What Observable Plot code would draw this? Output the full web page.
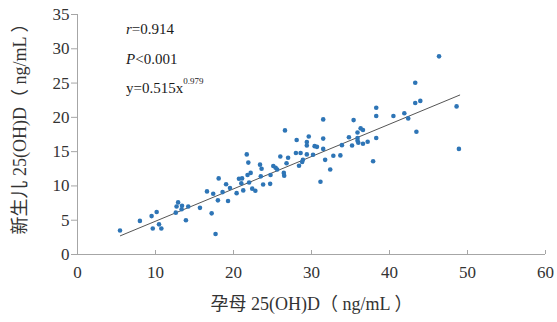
<!DOCTYPE html>
<html><head><meta charset="utf-8">
<script src="https://cdn.jsdelivr.net/npm/d3@7"></script>
<script src="https://cdn.jsdelivr.net/npm/@observablehq/plot@0.6"></script>
<style>html,body{margin:0;padding:0;background:#fff}</style>
</head><body><div id="chart"></div>
<script>
// maternal 25(OH)D (x) and neonatal 25(OH)D (y)
const maternal = [5.45, 8.0, 9.5, 10.15, 9.65, 10.45, 10.75, 12.9, 12.7, 13.4,
  13.35, 12.6, 14.2, 13.9, 15.7, 17.2, 17.7, 16.6, 17.4, 18.1,
  18.0, 18.6, 19.05, 19.3, 19.55, 20.4, 20.7, 21.1, 21.0, 21.25,
  21.7, 21.9, 21.8, 22.2, 22.0, 22.4, 22.8, 23.4, 23.6, 23.5,
  23.8, 24.7, 24.75, 25.1, 25.4, 25.6, 26.0, 26.45, 26.5, 26.8,
  27.0, 26.6, 28.1, 28.0, 28.6, 28.4, 28.9, 28.8, 29.4, 29.4,
  29.65, 29.4, 30.4, 30.7, 31.15, 31.5, 30.2, 31.5, 31.5, 31.75,
  32.4, 32.8, 33.7, 33.9, 34.8, 35.2, 35.4, 35.9, 36.3, 36.6,
  35.9, 35.9, 36.0, 36.6, 37.2, 37.9, 38.3, 38.3, 38.3, 40.5,
  46.35, 43.3, 43.3, 43.95, 41.9, 42.4, 43.45, 48.6, 48.9];
const neonatal = [3.5, 4.9, 5.6, 6.2, 3.8, 4.4, 3.8, 7.6, 7.0, 7.1,
  6.6, 6.1, 7.0, 5.0, 6.8, 6.0, 3.0, 9.2, 8.85, 11.1,
  7.9, 9.1, 10.25, 7.8, 9.7, 8.95, 11.05, 11.1, 10.4, 9.35,
  14.6, 13.4, 11.6, 11.9, 10.5, 9.6, 9.3, 13.1, 12.5, 11.4,
  10.2, 10.3, 11.6, 12.9, 12.65, 12.4, 14.3, 11.9, 11.5, 13.3,
  14.1, 18.1, 16.7, 14.8, 14.8, 12.95, 13.8, 13.5, 16.4, 15.9,
  17.2, 14.6, 15.8, 15.7, 10.6, 19.7, 14.55, 16.9, 15.4, 13.8,
  12.4, 14.4, 14.45, 15.95, 17.1, 15.9, 19.6, 17.8, 18.4, 18.15,
  17.0, 16.6, 16.3, 16.15, 16.45, 13.6, 21.4, 20.2, 17.0, 20.2,
  28.9, 25.05, 22.1, 22.4, 20.6, 19.85, 17.9, 21.6, 15.4];
// fitted curve end points (y = 0.515 x^0.979)
const fitX = [5.5, 49];
const fitY = [2.73, 23.25];
const xTicks = [0, 10, 20, 30, 40, 50, 60];
const yTicks = [0, 5, 10, 15, 20, 25, 30, 35];
const xLabel = "孕母 25(OH)D（ ng/mL ）";
const yLabel = "新生儿 25(OH)D（ ng/mL ）";
const statR = "0.914";
const statP = "0.001";
const coefA = "0.515";
const coefB = "0.979";

const points = maternal.map((x, i) => ({x, y: neonatal[i]}));
const fit = fitX.map((x, i) => ({x, y: fitY[i]}));
const serif = "'Liberation Serif','Times New Roman','Noto Sans CJK SC',serif";
const axisColor = "#a6a6a6";

const annotations = (index, scales, values, dims) => {
  const g = d3.create("svg:g")
    .attr("font-family", serif).attr("font-size", 15).attr("fill", "#1a1a1a")
    .attr("text-anchor", "start");
  const x0 = dims.marginLeft + 49;
  const t1 = g.append("text").attr("x", x0).attr("y", dims.marginTop + 20);
  t1.append("tspan").attr("font-style", "italic").text("r");
  t1.append("tspan").text("=" + statR);
  const t2 = g.append("text").attr("x", x0).attr("y", dims.marginTop + 50);
  t2.append("tspan").attr("font-style", "italic").text("P");
  t2.append("tspan").text("<" + statP);
  const t3 = g.append("text").attr("x", x0).attr("y", dims.marginTop + 79);
  t3.append("tspan").text("y=" + coefA + "x");
  t3.append("tspan").attr("font-size", 9).attr("dy", -9).text(coefB);
  return g.node();
};

const chart = Plot.plot({
  width: 557, height: 322,
  marginLeft: 77, marginRight: 12, marginTop: 14, marginBottom: 68,
  style: {fontFamily: serif, fontSize: "17px", color: "#333", background: "#fff"},
  x: {domain: [0, 60]},
  y: {domain: [0, 35]},
  marks: [
    Plot.ruleX([0], {stroke: axisColor}),
    Plot.ruleY([0], {stroke: axisColor}),
    Plot.axisY(yTicks, {tickSize: 6, tickPadding: 2, stroke: axisColor, fill: "#333", label: null, fontSize: 17}),
    Plot.axisX(xTicks, {tickSize: 4, dy: -4, tickFormat: () => "", stroke: axisColor, label: null}),
    Plot.axisX(xTicks, {tickSize: 0, tickPadding: 11, fill: "#333", label: null, fontSize: 17}),
    Plot.line(fit, {x: "x", y: "y", stroke: "#555", strokeWidth: 1}),
    Plot.dot(points, {x: "x", y: "y", r: 2.3, fill: "#2e75b6"}),
    Plot.text([xLabel], {frameAnchor: "bottom", dy: 50, text: d => d, fontSize: 18, fill: "#333",
      textAnchor: "middle", lineAnchor: "middle"}),
    Plot.text([yLabel], {frameAnchor: "left", dx: -57, dy: -10, rotate: -90, text: d => d, fontSize: 18, fill: "#333",
      textAnchor: "middle", lineAnchor: "middle"}),
    annotations
  ]
});
document.getElementById("chart").appendChild(chart);
</script>
</body></html>
